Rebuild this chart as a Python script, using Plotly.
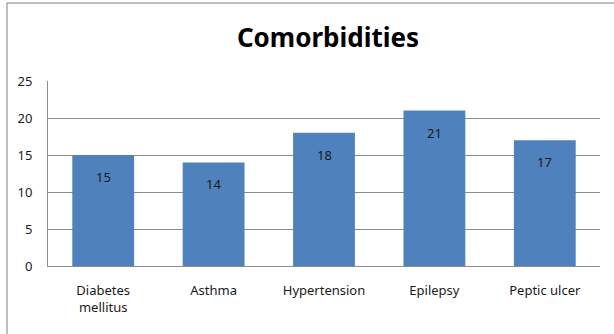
import plotly.graph_objects as go

# Chart data
categories = ["Diabetes mellitus", "Asthma", "Hypertension", "Epilepsy", "Peptic ulcer"]
tick_labels = ["Diabetes<br>mellitus", "Asthma", "Hypertension", "Epilepsy", "Peptic ulcer"]
counts = [15, 14, 18, 21, 17]
y_ticks = [0, 5, 10, 15, 20, 25]

BAR = "#4F81BD"
GRID = "#8C8C8C"
FONT = "Noto Sans"

fig = go.Figure(
    go.Bar(
        x=categories,
        y=counts,
        marker=dict(color=BAR, line=dict(width=0)),
        hoverinfo="skip",
    )
)

# value labels just inside the top of each bar
for cat, v in zip(categories, counts):
    fig.add_annotation(
        x=cat, y=v, text=str(v), showarrow=False,
        xref="x", yref="y", yshift=-22,
        font=dict(family=FONT, size=13, color="#1a1a1a"),
    )

# chart frame (top and left edges)
W, H = 614, 334
ml, mr, mt, mb = 48, 14, 81, 68
pw, ph = W - ml - mr, H - mt - mb
def px(x):
    return (x - ml) / pw
def py(y):
    return 1 - (y - mt) / ph

fig.add_shape(type="line", xref="paper", yref="paper",
              x0=px(7), x1=px(W + 5), y0=py(3), y1=py(3),
              line=dict(color="#7F7F7F", width=1))
fig.add_shape(type="line", xref="paper", yref="paper",
              x0=px(7), x1=px(7), y0=py(3), y1=py(H + 5),
              line=dict(color="#7F7F7F", width=1))

fig.update_layout(
    width=W, height=H,
    margin=dict(l=ml, r=mr, t=mt, b=mb),
    paper_bgcolor="white", plot_bgcolor="white",
    bargap=0.44,
    showlegend=False,
    title=dict(
        text="<b>Comorbidities</b>",
        xref="container", x=328 / W, xanchor="center",
        yref="container", y=1 - 38 / H, yanchor="middle",
        font=dict(family=FONT, size=26, color="black"),
    ),
    xaxis=dict(
        tickmode="array", tickvals=categories, ticktext=tick_labels,
        showline=True, linecolor=GRID, linewidth=1,
        ticks="", showgrid=False,
        tickfont=dict(family=FONT, size=13, color="#1a1a1a"),
        ticklabelstandoff=12,
    ),
    yaxis=dict(
        range=[0, 25], tickvals=y_ticks,
        showline=True, linecolor=GRID, linewidth=1,
        showgrid=True, gridcolor=GRID, gridwidth=1,
        zeroline=False, ticks="",
        tickfont=dict(family=FONT, size=13, color="#1a1a1a"),
        ticklabelstandoff=12,
    ),
)

fig.write_html("out.html")
